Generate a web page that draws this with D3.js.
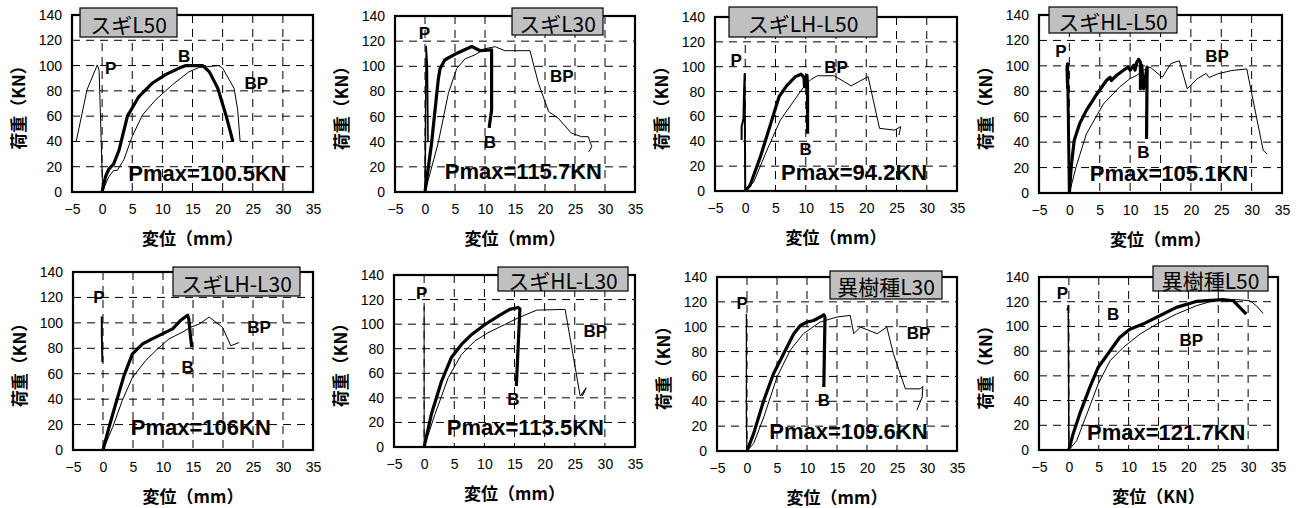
<!DOCTYPE html>
<html>
<head>
<meta charset="utf-8">
<script src="https://cdn.jsdelivr.net/npm/d3@7"></script>
<style>
  body { margin: 0; background: #fff; }
  svg { display: block; }
</style>
</head>
<body>
<div id="chart"></div>
<script>
// axis ticks
const xTicks = [-5, 0, 5, 10, 15, 20, 25, 30, 35];
const yTicks = [0, 20, 40, 60, 80, 100, 120, 140];

const titles = ['スギL50', 'スギL30', 'スギLH-L50', 'スギHL-L50', 'スギLH-L30', 'スギHL-L30', '異樹種L30', '異樹種L50'];
const pmaxLabels = ['Pmax=100.5KN', 'Pmax=115.7KN', 'Pmax=94.2KN', 'Pmax=105.1KN', 'Pmax=106KN', 'Pmax=113.5KN', 'Pmax=109.6KN', 'Pmax=121.7KN'];
const xTitles = ['変位（mm）', '変位（mm）', '変位（mm）', '変位（mm）', '変位（mm）', '変位（mm）', '変位（mm）', '変位（KN）'];

// [displacement mm, load kN]
const sugiL50_P = [[-4.3, 40], [-2.5, 81], [-0.8, 100.5], [-0.5, 96], [0.1, 0]];
const sugiL50_B = [[0, 0], [0.55, 12], [1.1, 18], [1.9, 22], [2.8, 33], [4.2, 60], [6.1, 75.5], [8.3, 86], [10.6, 93], [12.8, 98], [13.9, 100], [16.7, 100], [17.8, 95], [19.2, 82], [20.6, 60], [21.7, 40]];
const sugiL50_BP = [[0, 0], [1.1, 12], [1.9, 17], [2.5, 17], [3.6, 25.5], [5, 44], [6.7, 61], [8.9, 73], [11.7, 85], [14.4, 95], [16.1, 98.5], [19.4, 100], [20, 98], [21.9, 82], [22.5, 65], [22.9, 40]];

const sugiL30_P = [[0, 0], [0.2, 115.7], [0.4, 100], [0.5, 40]];
const sugiL30_B = [[0, 0], [1.1, 39], [2.2, 89], [2.5, 98], [3.3, 105], [4.4, 108], [5.6, 111], [7.8, 115.7], [9.2, 112.4], [11.1, 113], [11.1, 65], [10.8, 55], [10.7, 51]];
const sugiL30_BP = [[0, 0], [2.2, 39], [3.9, 78.6], [5.3, 98.4], [6.7, 106], [8.3, 109], [10, 114], [11.7, 115.6], [13.3, 112.4], [17.5, 112.4], [18.9, 86.5], [20.6, 64], [22.2, 58.7], [24.4, 46.8], [26.1, 44], [27.2, 44], [27.8, 36], [27.3, 32]];

const sugiLHL50_P = [[0, 0], [-0.1, 94.2], [-0.2, 80], [-0.3, 58], [-0.6, 52], [-0.6, 41]];
const sugiLHL50_B = [[0, 0], [0.8, 4.6], [2.5, 27.5], [4.2, 54], [5.6, 76], [6.9, 85], [8.3, 92], [9.2, 94], [9.7, 91.6], [9.8, 84], [10.2, 93], [10.3, 84], [10.3, 46]];
const sugiLHL50_BP = [[0, 0], [1.4, 7.3], [3.6, 33], [5.8, 57], [8.1, 73], [9.7, 84], [10.8, 89.5], [11.9, 92.7], [14.7, 92.7], [17.5, 84.6], [20.3, 92], [22.2, 50.4], [24.7, 49], [25.7, 51.8], [25.4, 45]];

const sugiHLL50_P = [[0, 0], [-0.3, 101.6], [-0.4, 99], [-0.3, 82]];
const sugiHLL50_B = [[0, 0], [0.3, 20.5], [0.8, 41.5], [1.7, 54.6], [2.8, 65], [4.4, 77], [6.1, 88.5], [6.7, 91], [6.9, 88.5], [7.8, 92.6], [8.9, 96.6], [9.7, 99], [10, 96.6], [10.6, 100.5], [10.8, 96.6], [11.1, 103], [11.4, 105.1], [11.7, 103], [11.7, 82], [11.9, 100.5], [12.2, 82], [12.8, 99], [12.7, 42.5]];
const sugiHLL50_BP = [[0, 0], [1.1, 20.5], [2.8, 46.5], [5.6, 70], [8.3, 83.5], [10, 90], [11.1, 92.6], [12.2, 96.6], [13.3, 99], [15.3, 91], [16.7, 101.8], [18.1, 104], [19.4, 82], [21.1, 90], [22.5, 94], [23, 90.8], [24.4, 93.7], [26.7, 96.3], [29.2, 97.6], [31.9, 33.6], [32.5, 30.7]];

const sugiLHL30_P = [[-0.2, 105], [-0.2, 90], [-0.1, 69]];
const sugiLHL30_B = [[0, 0], [1, 17.8], [2.1, 36], [3.5, 58.5], [4.9, 75.6], [6.6, 83.5], [8.2, 87.4], [9.9, 91.3], [11.6, 95.3], [12.9, 101.8], [14.1, 106], [14.3, 103], [14.6, 88.7], [14.8, 80.8]];
const sugiLHL30_BP = [[0, 0], [1.6, 17.8], [3.2, 38.8], [4.9, 57], [7.1, 70.3], [8.8, 78.2], [11, 87.4], [13.2, 92.6], [14.6, 96.6], [16, 99], [17.7, 104.5], [19.9, 96.6], [21.3, 82], [22.7, 84.5]];

const sugiHLL30_P = [[0, 0], [0, 114.6]];
const sugiHLL30_B = [[0, 0], [1.2, 26.6], [2.9, 53.7], [4.5, 72.6], [6.2, 83.5], [7.9, 91.6], [10.1, 99.7], [12.3, 106.5], [14.2, 112], [15.6, 113.5], [15.9, 112.5], [15.3, 49.6]];
const sugiHLL30_BP = [[0, 0], [1.8, 26.6], [4, 56.4], [6.2, 75.3], [8.4, 86.2], [10.6, 93], [13.4, 99.7], [15.6, 105.1], [18.7, 111.4], [23.4, 112], [25.9, 41.5], [26.9, 48.2], [26.2, 41.5], [26.7, 45.5]];

const ijuL30_P = [[0, 0], [-0.1, 22], [-0.1, 110.5]];
const ijuL30_B = [[0, 0], [1.1, 14], [2.8, 40.8], [4.4, 62], [6.1, 78.3], [7.8, 94.4], [8.9, 101], [10, 103.8], [11.1, 105], [12.2, 107.8], [12.8, 109.6], [13, 107.8], [12.8, 51.5]];
const ijuL30_BP = [[0, 0], [1.1, 6], [2.8, 27.3], [5, 59.5], [7.2, 81], [9.4, 94.4], [12.2, 103.8], [15, 107.8], [17.2, 109.1], [17.8, 94.4], [18.9, 99.7], [21.7, 94.4], [23.3, 99.7], [24.4, 78.3], [26.4, 50], [28.9, 50], [29.3, 52], [29.2, 43.4], [28.3, 32.7]];

const ijuL50_P = [[0, 0], [-0.1, 117], [-0.3, 113]];
const ijuL50_B = [[0, 0], [0.7, 13], [1.8, 29], [3.5, 50.7], [4.9, 66.8], [6.9, 80.3], [8.5, 91], [10.2, 97.8], [12.4, 101.9], [15.2, 108.6], [18, 115.4], [21.3, 120.2], [25.8, 121.7], [27.5, 120.8], [28.6, 115.4], [29.7, 110]];
const ijuL50_BP = [[0, 0], [1.3, 7.5], [3, 29], [4.9, 53.4], [6.9, 72.2], [9.1, 83], [11.9, 93.8], [14.7, 101.9], [18, 110], [21.3, 116.7], [24.7, 121.5], [28, 121.7], [30.3, 120.8], [31.4, 116.7], [32.5, 110.5]];

const seriesP = [sugiL50_P, sugiL30_P, sugiLHL50_P, sugiHLL50_P, sugiLHL30_P, sugiHLL30_P, ijuL30_P, ijuL50_P];
const seriesB = [sugiL50_B, sugiL30_B, sugiLHL50_B, sugiHLL50_B, sugiLHL30_B, sugiHLL30_B, ijuL30_B, ijuL50_B];
const seriesBP = [sugiL50_BP, sugiL30_BP, sugiLHL50_BP, sugiHLL50_BP, sugiLHL30_BP, sugiHLL30_BP, ijuL30_BP, ijuL50_BP];

// layout: plot area [left, top, width, height], title box [x, y, w, h]
const plotRects = [[72, 15, 241, 177], [395, 16, 240, 176], [715, 17, 242, 174], [1039, 15, 243, 178],
                   [73, 272, 240, 178], [394, 275, 241, 172], [717, 277, 240, 174], [1039, 277, 239, 173]];
const titleBoxes = [[80, 8, 97, 29], [512, 8, 91, 27], [729, 7, 148, 30], [1049, 7, 128, 26],
                    [173, 267, 127, 29], [498, 267, 130, 24], [830, 271, 112, 28], [1153, 266, 115, 25]];
const pWidths = [1, 1.6, 2, 3, 2, 1, 1.3, 1.5];
// label anchors in data coords: P, B, BP, Pmax
const labelPos = [
  [[1.4, 98], [13.6, 107], [25.6, 86], [17.5, 15]],
  [[-0.1, 126], [10.8, 39], [22.8, 92], [16.4, 16]],
  [[-1.5, 105], [10, 33], [15, 99], [18, 15]],
  [[-1.4, 111], [12.2, 32], [24.3, 107], [16.4, 15]],
  [[-0.7, 120], [14.1, 65], [26, 96], [16.3, 18]],
  [[-0.4, 124.7], [14.8, 38.8], [28.4, 94], [16.8, 15.7]],
  [[-0.8, 118.5], [12.8, 40.8], [28.6, 94.4], [16.9, 15.3]],
  [[-1.1, 126.7], [7.4, 110], [20.5, 88.4], [16.3, 14.3]]
];

const latin = '"Liberation Sans", Arial, sans-serif';
const cjk = '"Noto Sans CJK JP", "Noto Sans CJK SC", sans-serif';

const svg = d3.select('#chart').append('svg')
  .attr('width', 1300)
  .attr('height', 508);

titles.forEach((title, i) => {
  const [left, top, w, h] = plotRects[i];
  const x = d3.scaleLinear().domain([-5, 35]).range([left, left + w]);
  const y = d3.scaleLinear().domain([0, 140]).range([top + h, top]);
  const g = svg.append('g');

  // grid
  g.append('g').selectAll('line.v')
    .data(xTicks.slice(1, -1))
    .join('line')
    .attr('x1', d => x(d)).attr('x2', d => x(d))
    .attr('y1', top).attr('y2', top + h)
    .attr('stroke', '#000').attr('stroke-width', 1)
    .attr('stroke-dasharray', '8,6');
  g.append('g').selectAll('line.h')
    .data(yTicks.slice(1, -1))
    .join('line')
    .attr('x1', left).attr('x2', left + w)
    .attr('y1', d => y(d)).attr('y2', d => y(d))
    .attr('stroke', '#000').attr('stroke-width', 1)
    .attr('stroke-dasharray', '8,6');

  // axes (labels only)
  g.append('g')
    .attr('transform', `translate(0,${top + h})`)
    .call(d3.axisBottom(x).tickValues(xTicks).tickSize(0).tickPadding(12))
    .call(a => a.select('.domain').remove())
    .call(a => a.selectAll('text').attr('font-family', latin).attr('font-size', 14).attr('fill', '#000'));
  g.append('g')
    .attr('transform', `translate(${left},0)`)
    .call(d3.axisLeft(y).tickValues(yTicks).tickSize(0).tickPadding(10))
    .call(a => a.select('.domain').remove())
    .call(a => a.selectAll('text').attr('font-family', latin).attr('font-size', 14).attr('fill', '#000'));

  // curves
  const line = d3.line().x(d => x(d[0])).y(d => y(d[1]));
  g.append('path').datum(seriesBP[i]).attr('d', line)
    .attr('fill', 'none').attr('stroke', '#000').attr('stroke-width', 1).attr('stroke-linejoin', 'round');
  g.append('path').datum(seriesP[i]).attr('d', line)
    .attr('fill', 'none').attr('stroke', '#000').attr('stroke-width', pWidths[i]).attr('stroke-linejoin', 'round');
  g.append('path').datum(seriesB[i]).attr('d', line)
    .attr('fill', 'none').attr('stroke', '#000').attr('stroke-width', 3.2).attr('stroke-linejoin', 'round');

  // frame
  g.append('rect')
    .attr('x', left).attr('y', top).attr('width', w).attr('height', h)
    .attr('fill', 'none').attr('stroke', '#000').attr('stroke-width', 2.2);

  // curve labels
  const lp = labelPos[i];
  ['P', 'B', 'BP'].forEach((t, k) => {
    g.append('text')
      .attr('x', x(lp[k][0])).attr('y', y(lp[k][1]))
      .attr('text-anchor', 'middle').attr('dominant-baseline', 'central')
      .attr('font-family', latin).attr('font-weight', 'bold').attr('font-size', 17)
      .text(t);
  });
  g.append('text')
    .attr('x', x(lp[3][0])).attr('y', y(lp[3][1]))
    .attr('text-anchor', 'middle').attr('dominant-baseline', 'central')
    .attr('font-family', latin).attr('font-weight', 'bold').attr('font-size', 22)
    .text(pmaxLabels[i]);

  // axis titles
  g.append('text')
    .attr('transform', `translate(${left - 55},${top + h / 2}) rotate(-90)`)
    .attr('text-anchor', 'middle').attr('dominant-baseline', 'central')
    .attr('font-family', cjk).attr('font-weight', 'bold').attr('font-size', 17)
    .text('荷重（KN）');
  g.append('text')
    .attr('x', left + w / 2).attr('y', top + h + 45)
    .attr('text-anchor', 'middle').attr('dominant-baseline', 'central')
    .attr('font-family', cjk).attr('font-weight', 'bold').attr('font-size', 17)
    .text(xTitles[i]);

  // title box
  const [bx, by, bw, bh] = titleBoxes[i];
  g.append('rect')
    .attr('x', bx).attr('y', by).attr('width', bw).attr('height', bh)
    .attr('fill', '#c0c0c0').attr('stroke', '#000').attr('stroke-width', 1.2);
  g.append('text')
    .attr('x', bx + bw / 2).attr('y', by + bh / 2 + 1)
    .attr('text-anchor', 'middle').attr('dominant-baseline', 'central')
    .attr('font-family', cjk).attr('font-size', 21)
    .text(title);
});
</script>
</body>
</html>
